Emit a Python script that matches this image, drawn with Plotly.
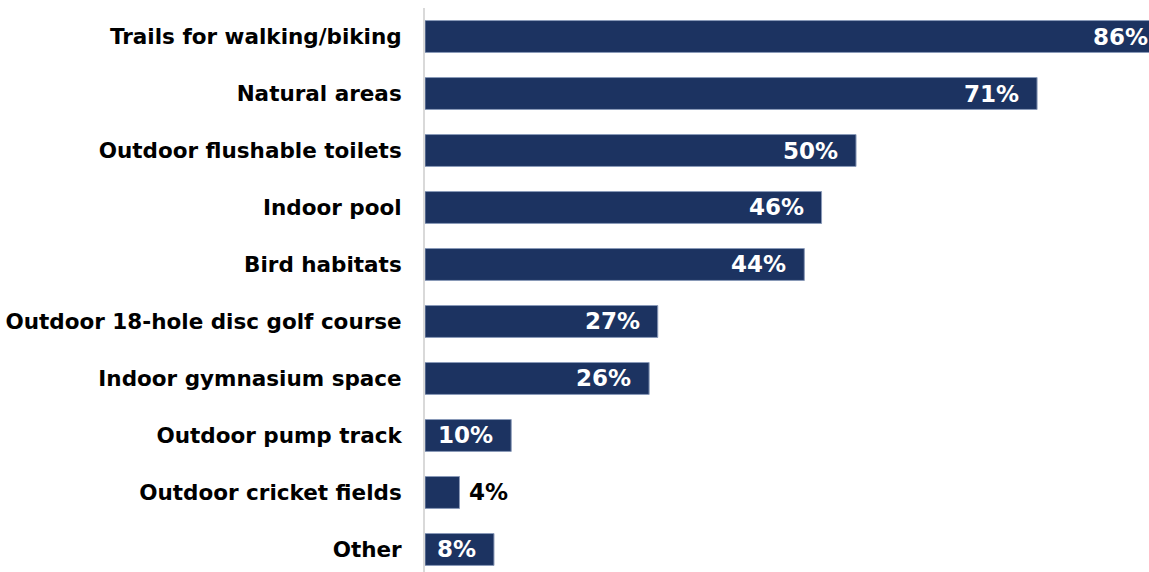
import plotly.graph_objects as go

categories = [
    "Trails for walking/biking",
    "Natural areas",
    "Outdoor flushable toilets",
    "Indoor pool",
    "Bird habitats",
    "Outdoor 18-hole disc golf course",
    "Indoor gymnasium space",
    "Outdoor pump track",
    "Outdoor cricket fields",
    "Other",
]
values = [86, 71, 50, 46, 44, 27, 26, 10, 4, 8]
value_labels = [f"{v}%" for v in values]

BAR_COLOR = "#1c3361"
FONT = "DejaVu Sans"

fig = go.Figure()
fig.add_trace(go.Bar(
    x=values,
    y=categories,
    orientation="h",
    marker=dict(color=BAR_COLOR, line=dict(color="#8a9ab8", width=1)),
    width=0.56,
    hoverinfo="skip",
))

annotations = []
for cat, v, lab in zip(categories, values, value_labels):
    inside = v >= 6
    annotations.append(dict(
        x=v, y=cat, xref="x", yref="y",
        text=f"<b>{lab}</b>",
        showarrow=False,
        xanchor="right" if inside else "left",
        xshift=-16 if inside else 8,
        font=dict(family=FONT, size=23, color="white" if inside else "black"),
    ))

# The chart is wider than the window: the right end is cut off by the viewport,
# as in the reference.
fig.update_layout(
    width=1175, height=572,
    margin=dict(l=425, r=0, t=8, b=0, autoexpand=False),
    paper_bgcolor="white", plot_bgcolor="white",
    showlegend=False,
    annotations=annotations,
    font=dict(family=FONT, color="black"),
    xaxis=dict(range=[0, 87], showgrid=False, zeroline=False, showline=False,
               showticklabels=False, ticks="", automargin=False),
    yaxis=dict(
        categoryorder="array", categoryarray=categories,
        range=[9.395, -0.5], automargin=False,
        showgrid=False, zeroline=False,
        showline=True, linecolor="#d9d9d9", linewidth=2,
        ticks="outside", ticklen=17, tickcolor="rgba(0,0,0,0)",
        tickfont=dict(family=FONT, size=21.5, color="black"),
        tickprefix="<b>", ticksuffix="</b>",
    ),
)

post = (
    "document.documentElement.style.margin='0';"
    "document.documentElement.style.overflow='hidden';"
    "document.body.style.margin='0';"
    "document.body.style.overflow='hidden';"
)
fig.write_html("out.html", post_script=post,
               config={"displayModeBar": False, "staticPlot": True})
